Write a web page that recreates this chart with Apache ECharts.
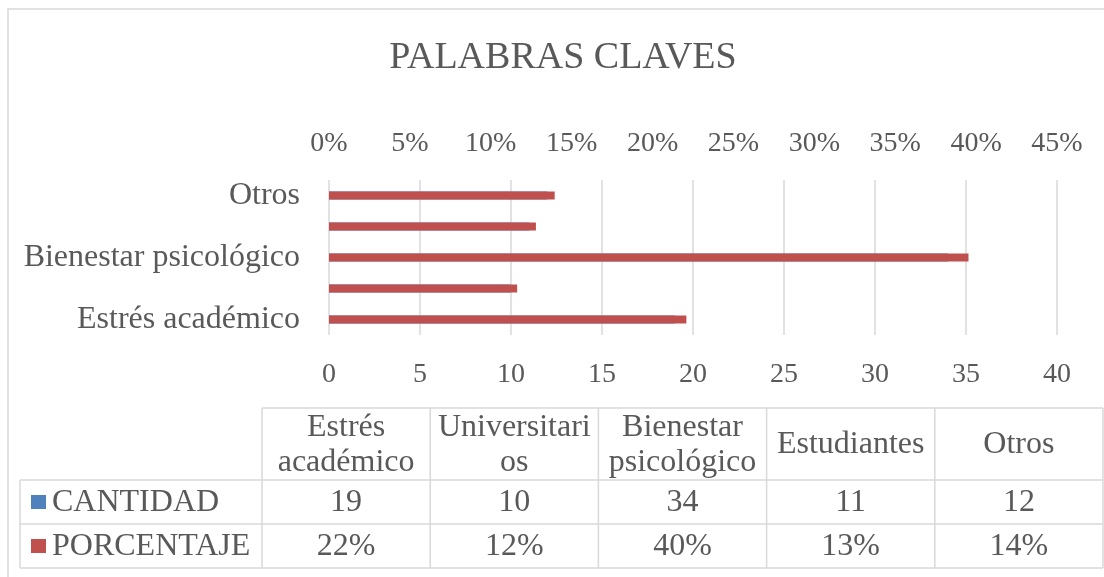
<!DOCTYPE html>
<html>
<head>
<meta charset="utf-8">
<script src="https://cdn.jsdelivr.net/npm/echarts@6/dist/echarts.min.js"></script>
<style>
  html, body { margin: 0; padding: 0; background: #fff; }
  #chart { width: 1104px; height: 577px; }
</style>
</head>
<body>
<div id="chart"></div>
<script>
// Data
const categories = ['Estrés académico', 'Universitarios', 'Bienestar psicológico', 'Estudiantes', 'Otros'];
const headerLabels = ['Estrés\nacadémico', 'Universitari\nos', 'Bienestar\npsicológico', 'Estudiantes', 'Otros'];
const cantidad = [19, 10, 34, 11, 12];
const porcentaje = [22.09, 11.63, 39.53, 12.79, 13.95];
const porcentajeLabels = ['22%', '12%', '40%', '13%', '14%'];
const seriesNames = ['CANTIDAD', 'PORCENTAJE'];
const seriesColors = ['#4F81BD', '#C0504D'];

const FONT = "'Liberation Serif', 'Times New Roman', serif";
const TEXT = '#595959';
const LINE = '#d9d9d9';

// Table layout
const tbl = { left: 262, colW: 168.2, top: 408, headH: 72, rowH: 44, legendLeft: 20 };

const buildTable = () => {
  const els = [];
  const right = tbl.left + tbl.colW * categories.length;
  const rowsTop = tbl.top + tbl.headH;
  const bottom = rowsTop + tbl.rowH * 2;
  const ln = (x1, y1, x2, y2) => ({
    type: 'line', shape: { x1, y1, x2, y2 },
    style: { stroke: LINE, lineWidth: 1.5 }, silent: true
  });
  // horizontal lines
  els.push(ln(tbl.left, tbl.top, right, tbl.top));
  els.push(ln(tbl.legendLeft, rowsTop, right, rowsTop));
  els.push(ln(tbl.legendLeft, rowsTop + tbl.rowH, right, rowsTop + tbl.rowH));
  els.push(ln(tbl.legendLeft, bottom, right, bottom));
  // vertical lines
  els.push(ln(tbl.legendLeft, rowsTop, tbl.legendLeft, bottom));
  for (let i = 0; i <= categories.length; i++) {
    const x = tbl.left + tbl.colW * i;
    els.push(ln(x, tbl.top, x, bottom));
  }
  const txt = (text, x, y, align) => ({
    type: 'text', x, y, silent: true,
    style: { text, fill: TEXT, font: '32px ' + FONT, align: align || 'center', verticalAlign: 'middle', lineHeight: 35 }
  });
  // header
  headerLabels.forEach((h, i) => {
    els.push(txt(h, tbl.left + tbl.colW * (i + 0.5), tbl.top + tbl.headH / 2 + 1));
  });
  // rows
  const rows = [cantidad.map(String), porcentajeLabels];
  rows.forEach((vals, r) => {
    const cy = rowsTop + tbl.rowH * (r + 0.5);
    els.push({
      type: 'rect', silent: true,
      shape: { x: 31, y: cy - 7, width: 15, height: 14 },
      style: { fill: seriesColors[r] }
    });
    els.push(txt(seriesNames[r], 52, cy + 1, 'left'));
    vals.forEach((v, i) => {
      els.push(txt(v, tbl.left + tbl.colW * (i + 0.5), cy + 1));
    });
  });
  // outer chart border
  els.push({
    type: 'rect', silent: true, z: -1,
    shape: { x: 8, y: 9, width: 1110, height: 590 },
    style: { fill: 'none', stroke: LINE, lineWidth: 1.5 }
  });
  return els;
};

const option = {
  animation: false,
  textStyle: { fontFamily: FONT, color: TEXT },
  title: {
    text: 'PALABRAS CLAVES',
    left: 558,
    textAlign: 'center',
    top: 34,
    textStyle: { fontFamily: FONT, fontSize: 38, fontWeight: 'normal', color: TEXT }
  },
  grid: { left: 329, top: 180, width: 728, height: 155, containLabel: false },
  xAxis: [
    {
      type: 'value',
      position: 'top',
      min: 0, max: 45, interval: 5,
      axisLine: { show: false },
      axisTick: { show: false },
      splitLine: { show: false },
      axisLabel: { formatter: '{value}%', fontSize: 28, color: TEXT, fontFamily: FONT, margin: 22 }
    },
    {
      type: 'value',
      position: 'bottom',
      min: 0, max: 40, interval: 5,
      axisLine: { show: false },
      axisTick: { show: false },
      splitLine: { show: true, lineStyle: { color: LINE, width: 1.5 } },
      axisLabel: { fontSize: 28, color: TEXT, fontFamily: FONT, margin: 26 }
    }
  ],
  yAxis: {
    type: 'category',
    data: categories,
    axisLine: { show: false },
    axisTick: { show: false },
    axisLabel: { interval: 1, fontSize: 32, color: TEXT, fontFamily: FONT, margin: 29 }
  },
  series: [
    {
      name: seriesNames[0],
      type: 'bar',
      xAxisIndex: 1,
      data: cantidad,
      barWidth: 8,
      barGap: '-100%',
      itemStyle: { color: seriesColors[0] },
      z: 2
    },
    {
      name: seriesNames[1],
      type: 'bar',
      xAxisIndex: 0,
      data: porcentaje,
      barWidth: 8,
      barGap: '-100%',
      itemStyle: { color: seriesColors[1] },
      z: 3
    }
  ],
  graphic: buildTable()
};

const myChart = echarts.init(document.getElementById('chart'));
myChart.setOption(option);
</script>
</body>
</html>
